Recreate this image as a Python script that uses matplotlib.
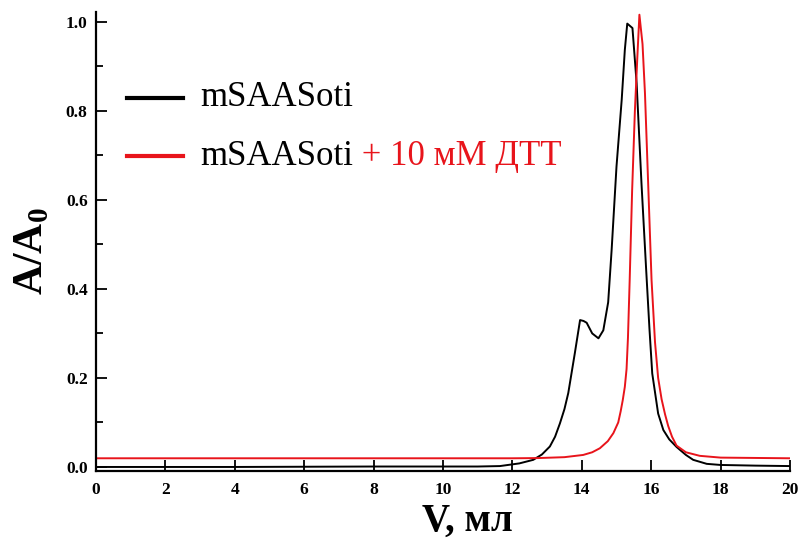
import matplotlib.pyplot as plt
from matplotlib.lines import Line2D

plt.rcParams["mathtext.fontset"] = "custom"
plt.rcParams["mathtext.bf"] = "Liberation Serif:bold"
plt.rcParams["mathtext.rm"] = "Liberation Serif"

# black trace: mSAASoti
v_black = [0, 4, 8, 10, 11.0, 11.64, 12.2, 12.6, 12.85, 13.08, 13.23, 13.37, 13.5, 13.61,
           13.80, 13.95, 14.05, 14.14, 14.3, 14.48, 14.62, 14.76, 14.86, 15.0, 15.15,
           15.24, 15.31, 15.46, 15.58, 15.72, 15.85, 15.95, 16.03, 16.20, 16.35, 16.52,
           16.73, 17.0, 17.21, 17.6, 18.0, 19.0, 20.0]
a_black = [0.0, 0.0, 0.001, 0.001, 0.001, 0.002, 0.008, 0.016, 0.028, 0.046, 0.068, 0.098,
           0.13, 0.166, 0.256, 0.33, 0.328, 0.324, 0.300, 0.289, 0.307, 0.37, 0.488,
           0.675, 0.825, 0.937, 0.996, 0.986, 0.862, 0.637, 0.45, 0.31, 0.21, 0.12,
           0.083, 0.062, 0.045, 0.027, 0.016, 0.007, 0.0045, 0.003, 0.002]

# red trace: mSAASoti + 10 mM DTT
v_red = [0, 6, 10, 12, 12.75, 13.5, 14.04, 14.3, 14.52, 14.75, 14.91, 15.05, 15.12,
         15.18, 15.24, 15.29, 15.33, 15.38, 15.45, 15.53, 15.60, 15.66, 15.75, 15.82,
         15.92, 16.01, 16.11, 16.20, 16.30, 16.40, 16.49, 16.60, 16.73, 17.0, 17.4,
         18.0, 20.0]
a_red = [0.0195, 0.0195, 0.0195, 0.0195, 0.02, 0.022, 0.027, 0.033, 0.042, 0.058, 0.076,
         0.10, 0.125, 0.15, 0.18, 0.22, 0.29, 0.42, 0.62, 0.80, 0.92, 1.016, 0.95, 0.84,
         0.62, 0.42, 0.28, 0.20, 0.152, 0.118, 0.092, 0.068, 0.048, 0.033, 0.025,
         0.021, 0.0195]

x_ticks = list(range(0, 21, 2))
y_ticks = [0.0, 0.2, 0.4, 0.6, 0.8, 1.0]

fig = plt.figure(figsize=(8, 5.47), dpi=100)
ax = fig.add_axes([0.12, 0.139, 0.8675, 0.839])

ax.plot(v_black, a_black, color="black", lw=1.4)
ax.plot(v_red, a_red, color="#e8141b", lw=1.4)

ax.set_xlim(0, 20)
ax.set_ylim(-0.009, 1.022)
ax.set_xticks(x_ticks)
ax.set_yticks(y_ticks)
ax.set_yticks([0.1, 0.3, 0.5, 0.7, 0.9], minor=True)
ax.set_yticklabels([f"{t:.1f}" for t in y_ticks])

for side in ("top", "right"):
    ax.spines[side].set_visible(False)
for side in ("left", "bottom"):
    ax.spines[side].set_linewidth(1.6)

ax.tick_params(axis="both", which="major", direction="in", length=8, width=1.3,
               labelsize=12.5)
ax.tick_params(axis="y", which="minor", direction="in", length=5, width=1.3)
ax.tick_params(axis="x", pad=8)
ax.tick_params(axis="y", pad=6)
for lab in ax.get_xticklabels() + ax.get_yticklabels():
    lab.set_fontfamily("Liberation Serif")
    lab.set_fontweight("bold")

ax.set_xlabel("V, мл", fontsize=28, fontweight="bold", family="Liberation Serif")
ax.xaxis.set_label_coords(0.535, -0.07)
ax.set_ylabel("A/A$_\\mathbf{0}$", fontsize=30, fontweight="bold",
              family="Liberation Serif")
ax.yaxis.set_label_coords(-0.065, 0.479)

# hand-drawn legend
tr = ax.transAxes
y1, y2 = 0.813, 0.686
for yy, col in ((y1, "black"), (y2, "#e8141b")):
    ax.add_line(Line2D([0.045, 0.125], [yy, yy], color=col, lw=3, transform=tr))
ax.text(0.15, y1, "mSAASoti", transform=tr, fontsize=25, va="center",
        family="Liberation Serif")
t2 = ax.text(0.15, y2, "mSAASoti", transform=tr, fontsize=25, va="center",
             family="Liberation Serif")
fig.canvas.draw()
bb = t2.get_window_extent(fig.canvas.get_renderer())
x_end = tr.inverted().transform((bb.x1, bb.y0))[0]
ax.text(x_end, y2, " + 10 мМ ДТТ", transform=tr, fontsize=25, va="center",
        family="Liberation Serif", color="#e8141b")

fig.savefig("out.png", dpi=100)
